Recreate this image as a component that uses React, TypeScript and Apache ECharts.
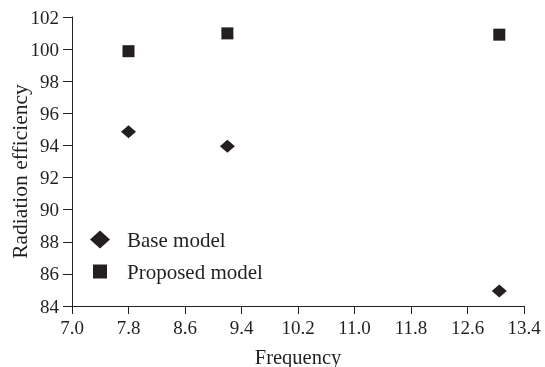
import React, { useEffect, useRef } from "react";
import * as echarts from "echarts";

const baseX = [7.8, 9.2, 13.05];
const baseY = [94.85, 93.95, 84.93];
const propX = [7.8, 9.2, 13.05];
const propY = [99.87, 100.98, 100.9];
const seriesNames = ["Base model", "Proposed model"];

const FONT = "'Liberation Serif', 'Times New Roman', serif";
const INK = "#231f20";
const SQUARE_ICON = "path://M0,0L0,0M2,2L16,2L16,16L2,16ZM18,18L18,18";

export default function App() {
  const ref = useRef<HTMLDivElement>(null);
  useEffect(() => {
    const chart = echarts.init(ref.current!, null, { renderer: "svg" });
    chart.setOption({
      animation: false,
      textStyle: { fontFamily: FONT },
      grid: { left: 72, right: 21, top: 17, bottom: 61, containLabel: false, outerBoundsMode: "none" },
      legend: {
        orient: "vertical",
        left: 90,
        top: 229,
        padding: 0,
        itemGap: 11,
        itemWidth: 20,
        itemHeight: 18,
        textStyle: { fontFamily: FONT, fontSize: 21, color: INK, padding: [0, 0, 0, 12] },
        data: [
          { name: seriesNames[0], icon: "diamond", itemStyle: { color: INK } },
          { name: seriesNames[1], icon: SQUARE_ICON, itemStyle: { color: INK } },
        ],
      },
      xAxis: {
        type: "value",
        min: 7.0,
        max: 13.4,
        interval: 0.8,
        name: "Frequency",
        nameLocation: "middle",
        nameGap: 40,
        nameTextStyle: { fontFamily: FONT, fontSize: 20.5, color: INK },
        axisLine: { show: true, lineStyle: { color: INK, width: 1 } },
        axisTick: { show: true, length: 8, lineStyle: { color: INK } },
        axisLabel: {
          fontFamily: FONT,
          fontSize: 19,
          color: INK,
          margin: 12,
          formatter: (v: number) => v.toFixed(1),
        },
        splitLine: { show: false },
      },
      yAxis: {
        type: "value",
        min: 84,
        max: 102,
        interval: 2,
        name: "Radiation efficiency",
        nameLocation: "middle",
        nameGap: 41,
        nameMoveOverlap: false,
        nameTextStyle: { fontFamily: FONT, fontSize: 21.5, color: INK, padding: [0, 20, 0, 0] },
        axisLine: { show: true, lineStyle: { color: INK, width: 1 } },
        axisTick: { show: true, length: 9, lineStyle: { color: INK } },
        axisLabel: { fontFamily: FONT, fontSize: 19, color: INK, margin: 13 },
        splitLine: { show: false },
      },
      series: [
        {
          name: seriesNames[0],
          type: "scatter",
          symbol: "diamond",
          symbolSize: [15, 13],
          itemStyle: { color: INK, opacity: 1 },
          data: baseX.map((x, i) => [x, baseY[i]]),
        },
        {
          name: seriesNames[1],
          type: "scatter",
          symbol: "rect",
          symbolSize: 12,
          itemStyle: { color: INK, opacity: 1 },
          data: propX.map((x, i) => [x, propY[i]]),
        },
      ],
    });
    return () => chart.dispose();
  }, []);
  return <div ref={ref} style={{ width: 545, height: 367, position: "fixed", left: 0, top: 0 }} />;
}
